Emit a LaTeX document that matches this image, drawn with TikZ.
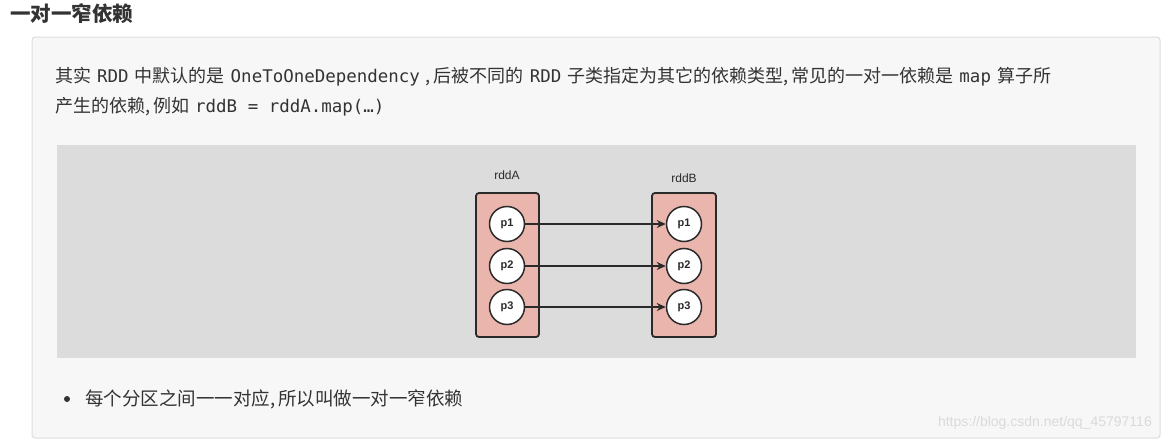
\documentclass[tikz,border=0pt]{standalone}
\usepackage{fontspec}
\setmainfont{Liberation Sans}
\newfontfamily\cjk{Noto Sans CJK SC}
\newfontfamily\code{DejaVu Sans Mono}[Scale=0.97]
\usetikzlibrary{arrows.meta}
\definecolor{txt}{HTML}{333333}
\definecolor{panel}{HTML}{F7F7F7}
\definecolor{panelline}{HTML}{DDDDDD}
\definecolor{diag}{HTML}{DCDCDC}
\definecolor{rddfill}{HTML}{EAB5AD}
\definecolor{edge}{HTML}{2A2A2A}
\definecolor{wm}{HTML}{DADADA}
\newcommand{\cm}{,\hspace{3pt}}
\newcommand{\gapsp}{\hspace{6pt}}
\newcommand{\mono}[1]{\gapsp{\code #1}\gapsp}
\tikzset{
  rddbox/.style={draw=edge, line width=1.8pt, fill=rddfill, rounded corners=3pt},
  part/.style={circle, draw=edge, line width=1.5pt, fill=white, minimum size=35pt, inner sep=0pt, font=\fontsize{11}{13}\selectfont\bfseries, text=edge},
  rddlabel/.style={font=\fontsize{12}{14}\selectfont, text=edge},
  dep/.style={draw=edge, line width=1.6pt, -{Stealth[length=9pt,width=8pt]}},
  para/.style={anchor=west, inner sep=0pt, text=txt, font=\cjk\fontsize{18}{22}\selectfont}
}
\begin{document}
\begin{tikzpicture}[x=1pt, y=-1pt]
\useasboundingbox (0,0) rectangle (1163,442);
\fill[white] (0,0) rectangle (1163,442);
% title
\node[anchor=west, inner sep=0pt, text=txt, font=\cjk\bfseries\fontsize{20.5}{24}\selectfont] (title) at (10,14) {一对一窄依赖};
% panel
\draw[panelline, fill=panel, rounded corners=3pt, line width=1pt] (32,37) rectangle (1160,438);
% paragraph
\node[para] (l1) at (55,77) {其实\mono{RDD}中默认的是\mono{OneToOneDependency}\cm 后被不同的\mono{RDD}子类指定为其它的依赖类型\cm 常见的一对一依赖是\mono{map}算子所};
\node[para] (l2) at (55,107) {产生的依赖\cm 例如\gapsp{\code rddB = rddA.map(…)}};
% diagram area
\fill[diag] (57,145) rectangle (1136,358);
\draw[rddbox] (476,193) rectangle (539,337);
\draw[rddbox] (652,193) rectangle (716,337);
\node[rddlabel] (la) at (507,175) {rddA};
\node[rddlabel] (lb) at (684,178) {rddB};
\node[part] (a1) at (507,224) {p1};
\node[part] (a2) at (507,266) {p2};
\node[part] (a3) at (507,307) {p3};
\node[part] (b1) at (684,224) {p1};
\node[part] (b2) at (684,266) {p2};
\node[part] (b3) at (684,307) {p3};
\draw[dep] (a1) -- (b1);
\draw[dep] (a2) -- (b2);
\draw[dep] (a3) -- (b3);
% bullet
\fill[txt] (67,399) circle (3pt);
\node[para, font=\cjk\fontsize{18.5}{22}\selectfont] (bl) at (85,399) {每个分区之间一一对应\cm 所以叫做一对一窄依赖};
% watermark
\node[anchor=east, inner sep=0pt, text=wm, font=\fontsize{14}{16}\selectfont] (wmk) at (1152,423) {https://blog.csdn.net/qq\_45797116};
\end{tikzpicture}
\end{document}
